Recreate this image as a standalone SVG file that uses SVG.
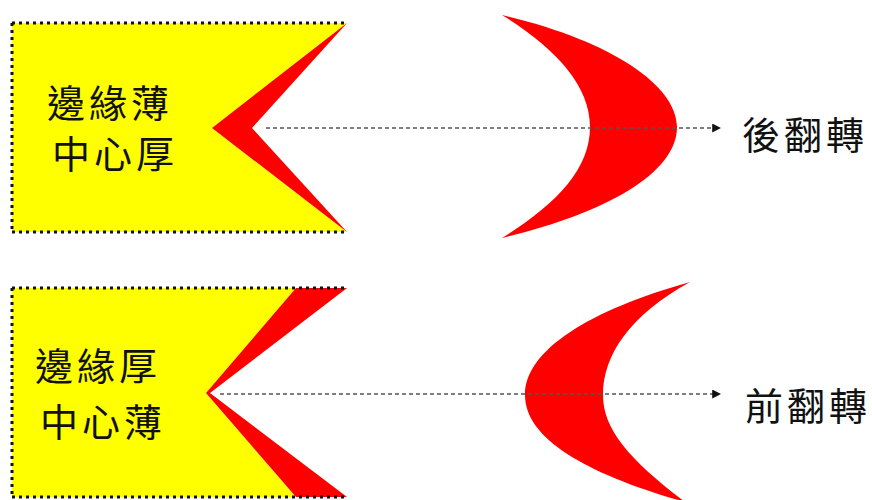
<svg xmlns="http://www.w3.org/2000/svg" width="872" height="500" viewBox="0 0 872 500">
<style>
.yel{fill:#ffff00}
.red{fill:#ff0000}
.dot{fill:none;stroke:#111;stroke-width:3;stroke-dasharray:3 4}
.conn{fill:none;stroke:#555;stroke-width:1.6;stroke-dasharray:4 3}
.t{font-family:"Noto Sans CJK TC","Noto Sans CJK SC",sans-serif;font-size:38px;fill:#111;dominant-baseline:central;letter-spacing:4px}
</style>
<defs>
<marker id="ah" viewBox="0 0 10 10" refX="2" refY="5" markerWidth="9" markerHeight="9" markerUnits="userSpaceOnUse" orient="auto">
<path d="M0,0 L10,5 L0,10 Z" fill="#111"/>
</marker>
</defs>
<rect width="872" height="500" fill="#fff"/>
<g id="top-plate">
<polygon class="yel" points="12,23 347,23 212,128 347,232 12,232"/>
<polygon class="red" points="347,23 212,128 347,232 252,128"/>
<path class="dot" d="M12,23 H347 M12,23 V232 M12,232 H347"/>
<text class="t" x="47" y="100">邊緣薄</text>
<text class="t" x="52" y="151">中心厚</text>
</g>
<g id="top-crescent">
<path class="red" d="M502,15 C610,40 677,85 677,127 C677,175 600,215 502,238 C555,205 590,170 590,127 C590,85 555,48 502,15 Z"/>
</g>
<g id="bottom-plate">
<polygon class="yel" points="12,288 296,288 206,393 296,497 12,497"/>
<polygon class="red" points="296,288 347,288 210,393 347,497 296,497 206,393"/>
<path class="dot" d="M12,288 H347 M12,288 V497 M12,497 H347"/>
<text class="t" x="35" y="363">邊緣厚</text>
<text class="t" x="40" y="419">中心薄</text>
</g>
<g id="bottom-crescent">
<path class="red" d="M690,282 C590,310 525,350 525,395 C525,440 590,475 685,502 C630,460 603,430 603,395 C603,355 630,315 690,282 Z"/>
</g>
<g id="connectors">
<path class="conn" d="M266,128 H714" marker-end="url(#ah)"/>
<path class="conn" d="M220,394 H714" marker-end="url(#ah)"/>
</g>
<g id="labels">
<text class="t" x="742" y="132">後翻轉</text>
<text class="t" x="745" y="403">前翻轉</text>
</g>
</svg>
